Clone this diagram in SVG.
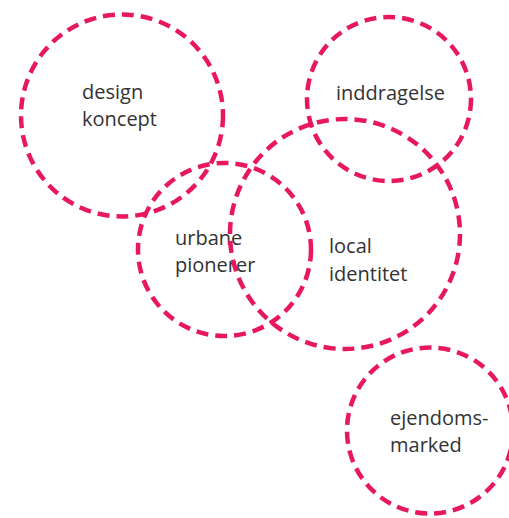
<svg xmlns="http://www.w3.org/2000/svg" width="509" height="518" viewBox="0 0 509 518">
<style>
.c{fill:none;stroke:#E8185F;stroke-width:4.5;stroke-dasharray:12 7}
.t{font-family:"Open Sans","Liberation Sans",sans-serif;font-size:20px;fill:#333333}
</style>
<rect width="509" height="518" fill="#ffffff"/>
<g id="design-koncept"><circle class="c" cx="122" cy="115.5" r="101"/><text class="t" x="82" y="99">design</text><text class="t" x="82" y="126">koncept</text></g>
<g id="inddragelse"><circle class="c" cx="389" cy="99" r="82"/><text class="t" x="336" y="100">inddragelse</text></g>
<g id="urbane-pionerer"><circle class="c" cx="224.5" cy="249.5" r="86.5"/><text class="t" x="175" y="245">urbane</text><text class="t" x="175" y="272">pionerer</text></g>
<g id="local-identitet"><circle class="c" cx="345" cy="234" r="115"/><text class="t" x="329" y="253">local</text><text class="t" x="329" y="281">identitet</text></g>
<g id="ejendomsmarked"><circle class="c" cx="430" cy="430.5" r="83"/><text class="t" x="390" y="425">ejendoms-</text><text class="t" x="390" y="452">marked</text></g>
<g id="connectors"/>
</svg>
